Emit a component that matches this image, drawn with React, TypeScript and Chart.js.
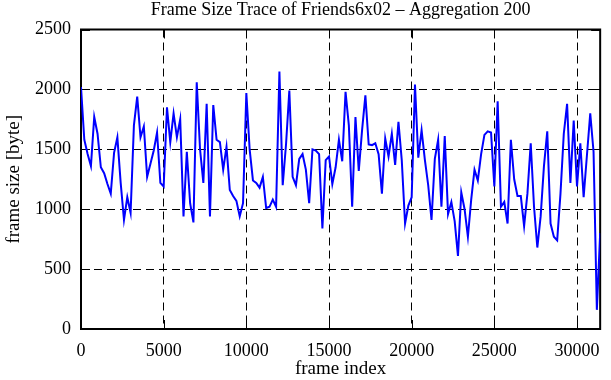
import React, { useEffect, useRef } from "react";
import { Chart, registerables } from "chart.js";

Chart.register(...registerables);

const TITLE = "Frame Size Trace of Friends6x02 \u2013 Aggregation 200";
const X_LABEL = "frame index";
const Y_LABEL = "frame size [byte]";
const AGGREGATION = 200;

const xTicks = [0, 5000, 10000, 15000, 20000, 25000, 30000];
const yTicks = [0, 500, 1000, 1500, 2000, 2500];
const X_MAX = 31400;

// aggregated frame size, one value per 200 frames
const frameSizes = [
  2020, 1580, 1460, 1360, 1770, 1630, 1350, 1300, 1210, 1130,
  1470, 1600, 1220, 910, 1100, 970, 1700, 1940, 1600, 1690,
  1270, 1380, 1490, 1640, 1220, 1190, 1850, 1560, 1800, 1600,
  1750, 940, 1480, 1050, 890, 2060, 1500, 1220, 1880, 940,
  1870, 1580, 1560, 1330, 1520, 1160, 1110, 1070, 940, 1050,
  1970, 1500, 1240, 1220, 1180, 1270, 1010, 1020, 1080, 1020,
  2150, 1200, 1540, 1990, 1270, 1200, 1420, 1460, 1330, 1050,
  1500, 1490, 1460, 840, 1410, 1440, 1210, 1350, 1580, 1400,
  1980, 1700, 1020, 1770, 1320, 1660, 1950, 1540, 1535, 1550,
  1460, 1130, 1590, 1440, 1630, 1370, 1730, 1410, 880, 1030,
  1100, 2040, 1430, 1660, 1410, 1200, 910, 1420, 1580, 1020,
  1610, 960, 1060, 900, 610, 1140, 1000, 770, 1080, 1330,
  1240, 1460, 1620, 1650, 1640, 1190, 1900, 1020, 1060, 880,
  1580, 1250, 1110, 1110, 860, 1130, 1550, 1020, 680, 940,
  1360, 1650, 880, 770, 740, 1130, 1630, 1880, 1220, 1740,
  1190, 1550, 1100, 1450, 1800, 1480, 160, 800,
];

const FONT = "'Liberation Serif', 'Times New Roman', serif";

const framePlugin = {
  id: "gnuFrame",
  beforeDatasetsDraw(chart: any) {
    const { ctx, chartArea, scales } = chart;
    const { left, right, top, bottom } = chartArea;
    ctx.save();
    ctx.setLineDash([]);
    ctx.strokeStyle = "#000";
    ctx.lineWidth = 1;
    const L = 9;
    ctx.beginPath();
    for (const v of xTicks) {
      const px = Math.round(scales.x.getPixelForValue(v)) + 0.5;
      ctx.moveTo(px, bottom);
      ctx.lineTo(px, bottom - L);
      ctx.moveTo(px, top);
      ctx.lineTo(px, top + L);
    }
    for (const v of yTicks) {
      const py = Math.round(scales.y.getPixelForValue(v)) + 0.5;
      ctx.moveTo(left, py);
      ctx.lineTo(left + L, py);
      ctx.moveTo(right, py);
      ctx.lineTo(right - L, py);
    }
    ctx.stroke();
    ctx.lineWidth = 2;
    ctx.strokeRect(left, top, right - left, bottom - top);
    ctx.restore();
  },
};

export default function App() {
  const ref = useRef<HTMLCanvasElement | null>(null);

  useEffect(() => {
    if (!ref.current) return;
    const points = frameSizes.map((v, i) => ({ x: i * AGGREGATION, y: v }));
    const chart = new Chart(ref.current, {
      type: "line",
      data: {
        datasets: [
          {
            data: points,
            borderColor: "#0000ff",
            borderWidth: 2,
            pointRadius: 0,
            tension: 0,
            fill: false,
          },
        ],
      },
      options: {
        animation: false,
        responsive: false,
        devicePixelRatio: 1,
        layout: { padding: { left: 0, right: 3, top: 0, bottom: 0 } },
        plugins: {
          legend: { display: false },
          tooltip: { enabled: false },
          title: {
            display: true,
            fullSize: false,
            text: TITLE,
            color: "#000",
            font: { family: FONT, size: 18, weight: "normal", lineHeight: 1 },
            padding: { top: 1, bottom: 10.5 },
          },
        },
        scales: {
          x: {
            type: "linear",
            min: 0,
            max: X_MAX,
            afterFit: (s: any) => {
              s.height = 51;
            },
            afterBuildTicks: (s: any) => {
              s.ticks = xTicks.map((v) => ({ value: v }));
            },
            ticks: {
              color: "#000",
              font: { family: FONT, size: 18 },
              padding: 11,
              maxRotation: 0,
              autoSkip: false,
              callback: (v: any) => String(v),
            },
            grid: { color: "#000", lineWidth: 1, drawTicks: false },
            border: { display: false, dash: [8, 5] },
            title: {
              display: true,
              text: X_LABEL,
              color: "#000",
              font: { family: FONT, size: 19 },
              padding: { top: 0, bottom: 0 },
            },
          },
          y: {
            type: "linear",
            min: 0,
            max: 2500,
            afterFit: (s: any) => {
              s.width = 81;
            },
            afterBuildTicks: (s: any) => {
              s.ticks = yTicks.map((v) => ({ value: v }));
            },
            ticks: {
              color: "#000",
              font: { family: FONT, size: 18 },
              padding: 10,
              autoSkip: false,
              callback: (v: any) => String(v),
            },
            grid: { color: "#000", lineWidth: 1, drawTicks: false },
            border: { display: false, dash: [8, 5] },
            title: {
              display: true,
              text: Y_LABEL,
              color: "#000",
              font: { family: FONT, size: 19 },
              padding: { top: 3, bottom: 0 },
            },
          },
        },
      },
      plugins: [framePlugin],
    });
    return () => chart.destroy();
  }, []);

  return (
    <div style={{ position: "fixed", left: 0, top: 0, width: 611, height: 380, background: "#fff" }}>
      <canvas ref={ref} width={611} height={380} style={{ width: 611, height: 380, display: "block" }} />
    </div>
  );
}
